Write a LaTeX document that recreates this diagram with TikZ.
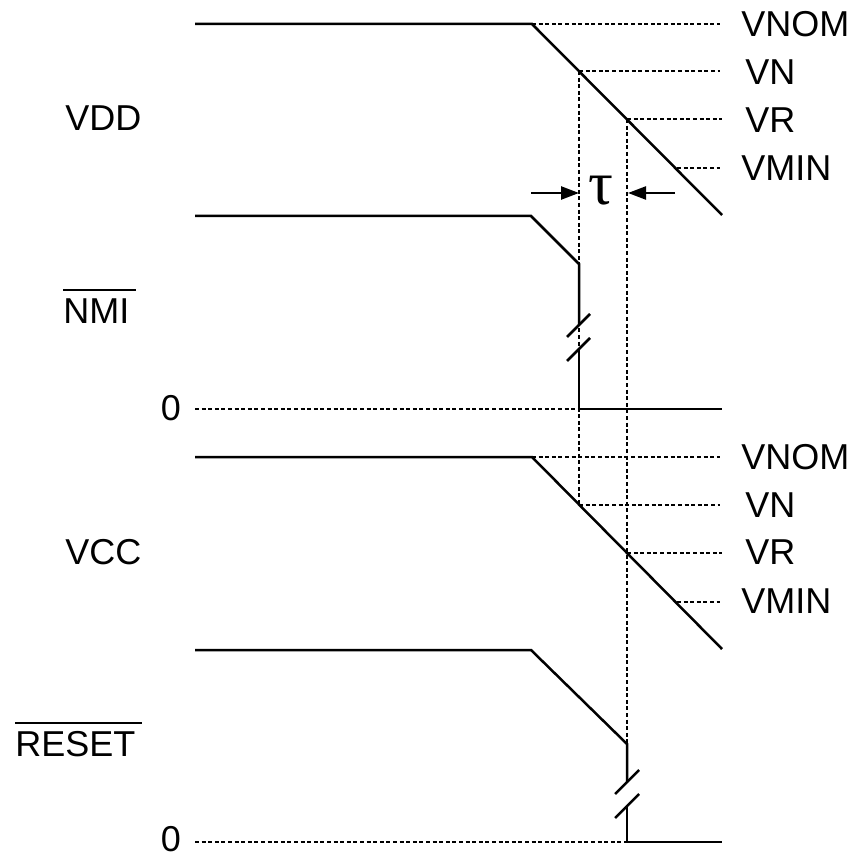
\documentclass[tikz,border=0pt]{standalone}
\usepackage{fontspec}
\setmainfont{Liberation Sans}
\newfontfamily\taufont{Liberation Serif}
\usetikzlibrary{arrows.meta}
\begin{document}
\begin{tikzpicture}[x=0.5pt,y=-0.5pt,
  sig/.style={line width=1.25pt, line join=miter},
  guide/.style={line width=1.2pt, dash pattern=on 2pt off 1.3pt},
  lbl/.style={inner sep=0pt, font=\fontsize{18}{20}\selectfont},
  dimarrow/.style={line width=1.2pt, -{Triangle[length=9pt,width=6.5pt]}}]
\useasboundingbox (0,0) rectangle (854,855);

% ---------- coordinates ----------
% VDD
\coordinate (d0) at (195,24);
\coordinate (d1) at (532,24);
\coordinate (d2) at (722,215);
\coordinate (dN) at (579,71);
\coordinate (dR) at (627,119);
\coordinate (dM) at (677,168);
% NMI
\coordinate (n0) at (195,216);
\coordinate (n1) at (531,216);
\coordinate (n2) at (579,264);
\coordinate (n3) at (579,325);
\coordinate (n4) at (579,349);
\coordinate (n5) at (579,409);
\coordinate (n6) at (722,409);
\coordinate (nz) at (195,409);
% VCC
\coordinate (c0) at (195,457);
\coordinate (c1) at (532,457);
\coordinate (c2) at (722,649);
\coordinate (cN) at (579,505);
\coordinate (cR) at (627,553);
\coordinate (cM) at (677,602);
% RESET
\coordinate (r0) at (195,650);
\coordinate (r1) at (531,650);
\coordinate (r2) at (627,744);
\coordinate (r3) at (627,782);
\coordinate (r4) at (627,806);
\coordinate (r5) at (627,842);
\coordinate (r6) at (722,842);
\coordinate (rz) at (195,842);
% guide ends
\coordinate (gNOMd) at (720,24);
\coordinate (gNd) at (720,71);
\coordinate (gRd) at (722,119);
\coordinate (gMd) at (720,168);
\coordinate (gNOMc) at (720,457);
\coordinate (gNc) at (720,505);
\coordinate (gRc) at (722,553);
\coordinate (gMc) at (720,602);
% tau arrows
\coordinate (ta0) at (531,193);
\coordinate (ta1) at (579,193);
\coordinate (tb0) at (675,193);
\coordinate (tb1) at (628,193);

% ---------- dotted guides ----------
\draw[guide] (d1) -- (gNOMd);
\draw[guide] (dN) -- (gNd);
\draw[guide] (dR) -- (gRd);
\draw[guide] (dM) -- (gMd);
\draw[guide] (c1) -- (gNOMc);
\draw[guide] (cN) -- (gNc);
\draw[guide] (cR) -- (gRc);
\draw[guide] (cM) -- (gMc);
\draw[guide] (dN) -- (cN);
\draw[guide] (dR) -- (r2);
\draw[guide] (nz) -- (n5);
\draw[guide] (rz) -- (r5);

% ---------- signals ----------
\draw[sig] (d0) -- (d1) -- (d2);
\draw[sig] (n0) -- (n1) -- (n2) -- (n3);
\draw[sig] (n4) -- (n5) -- (n6);
\draw[sig] (567,337) -- (590,314);
\draw[sig] (567,361) -- (590,338);
\draw[sig] (c0) -- (c1) -- (c2);
\draw[sig] (r0) -- (r1) -- (r2) -- (r3);
\draw[sig] (r4) -- (r5) -- (r6);
\draw[sig] (615,794) -- (639,770);
\draw[sig] (615,818) -- (639,794);

% ---------- tau ----------
\draw[dimarrow] (ta0) -- (ta1);
\draw[dimarrow] (tb0) -- (tb1);
\node[inner sep=0pt] (tau) at (601,191) {\taufont\fontsize{31}{33}\selectfont τ};

% ---------- labels ----------
\node[lbl, anchor=west] (lNOMd) at (741,24) {VNOM};
\node[lbl, anchor=west] (lNd) at (745,72) {VN};
\node[lbl, anchor=west] (lRd) at (745,120) {VR};
\node[lbl, anchor=west] (lMd) at (741,168) {VMIN};
\node[lbl, anchor=west] (lNOMc) at (741,457) {VNOM};
\node[lbl, anchor=west] (lNc) at (745,505) {VN};
\node[lbl, anchor=west] (lRc) at (745,552) {VR};
\node[lbl, anchor=west] (lMc) at (741,601) {VMIN};

\node[lbl, anchor=west] (lVDD) at (65,118) {VDD};
\node[lbl, anchor=west] (lNMI) at (63,311) {NMI};
\draw[line width=1.1pt] ([yshift=4pt]lNMI.north west) -- ([xshift=3pt,yshift=4pt]lNMI.north east);
\node[lbl] (lz1) at (171,408) {0};
\node[lbl, anchor=west] (lVCC) at (65,552) {VCC};
\node[lbl, anchor=west] (lRST) at (15,744) {RESET};
\draw[line width=1.1pt] ([yshift=4pt]lRST.north west) -- ([xshift=3pt,yshift=4pt]lRST.north east);
\node[lbl] (lz2) at (171,839) {0};
\end{tikzpicture}
\end{document}
